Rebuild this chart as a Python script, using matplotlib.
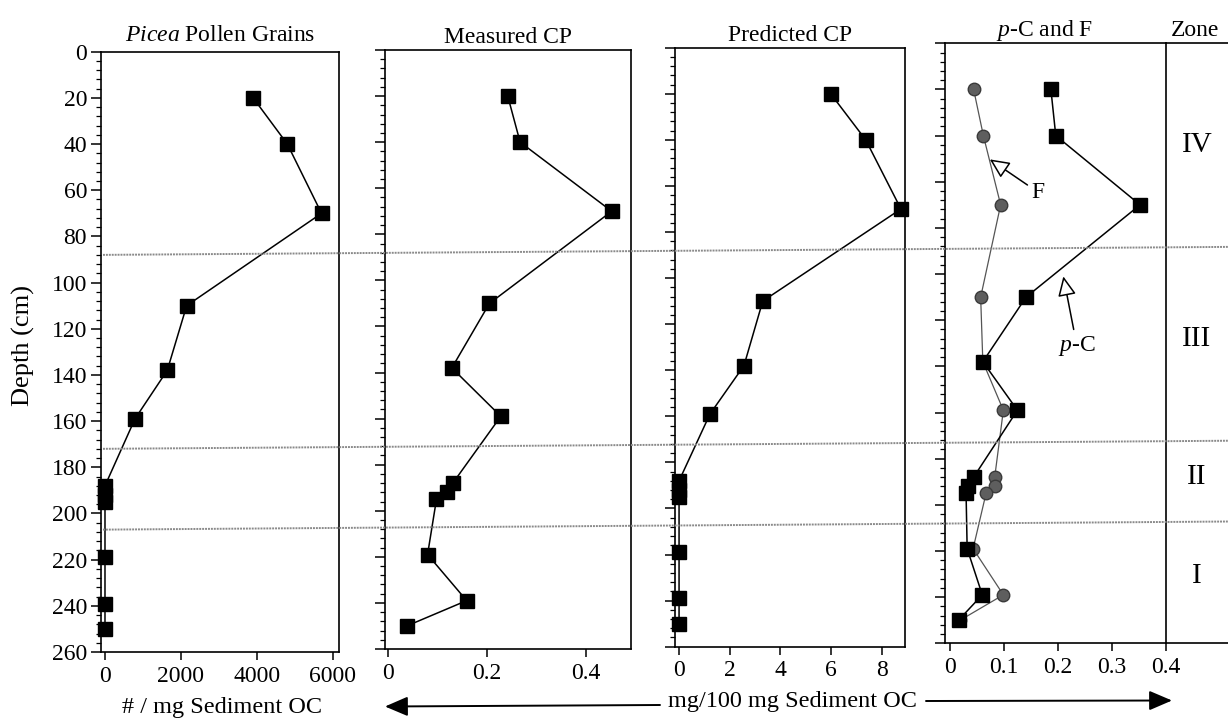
import matplotlib
matplotlib.use('Agg')
import matplotlib.pyplot as plt
from matplotlib.lines import Line2D
from matplotlib.ticker import MultipleLocator

plt.rcParams['font.family'] = ['Liberation Serif', 'DejaVu Serif']
plt.rcParams['mathtext.fontset'] = 'custom'
plt.rcParams['mathtext.rm'] = 'Liberation Serif'
plt.rcParams['mathtext.it'] = 'Liberation Serif:italic'

# Depth of each sample (cm)
depth = [20, 40, 70, 110, 138, 159, 188, 192, 195, 219, 239, 250]
# Picea pollen grains (# / mg sediment OC)
picea = [3900, 4800, 5700, 2150, 1640, 790, 0, 0, 0, 0, 0, 0]
# mg/100 mg sediment OC
measured_cp = [0.242, 0.267, 0.452, 0.205, 0.129, 0.228, 0.131, 0.119, 0.098, 0.080, 0.159, 0.038]
predicted_cp = [5.98, 7.36, 8.75, 3.30, 2.56, 1.22, 0, 0, 0, 0, 0, 0]
p_c = [0.187, 0.196, 0.352, 0.141, 0.061, 0.125, 0.044, 0.034, 0.030, 0.032, 0.060, 0.016]
f_vals = [0.044, 0.062, 0.094, 0.057, 0.061, 0.099, 0.083, 0.083, 0.067, 0.043, 0.099, 0.019]

# zone boundaries (cm) and zone labels
zone_bounds = [88, 172, 207]
zone_names = ['IV', 'III', 'II', 'I']
zone_mid = [44, 128, 188, 231]

W, H = 1228, 720
fig = plt.figure(figsize=(W / 100, H / 100), dpi=100)


def box(x0, x1, ytop, ybot):
    # pixel box of the scanned panel -> figure fraction
    return [x0 / W, 1 - ybot / H, (x1 - x0) / W, (ybot - ytop) / H]


ax1 = fig.add_axes(box(101, 339, 51.7, 652))
ax2 = fig.add_axes(box(385, 631, 50, 649))
ax3 = fig.add_axes(box(675, 905, 47.7, 646.7))
ax4 = fig.add_axes(box(945, 1166, 43.3, 643.3))
axz = fig.add_axes(box(1166, 1300, 43.3, 643.3))

sq = dict(marker='s', ms=9.5, mfc='black', mec='black', color='black', lw=1.1, clip_on=False, zorder=3)

for ax in [ax1, ax2, ax3, ax4]:
    ax.set_ylim(260, 0)
    ax.patch.set_alpha(0)
    ax.yaxis.set_major_locator(MultipleLocator(20))
    ax.yaxis.set_minor_locator(MultipleLocator(4))
    ax.tick_params(axis='y', which='major', direction='out', length=7, width=1.1, labelsize=17, pad=3)
    ax.tick_params(axis='y', which='minor', direction='out', length=3.6, width=0.9)
    ax.tick_params(axis='x', which='major', direction='out', length=5.8, width=1.1, labelsize=17, pad=4)
    for s in ax.spines.values():
        s.set_linewidth(1.2)
    if ax is not ax1:
        ax.tick_params(axis='y', labelleft=False)

# Picea
ax1.plot(picea, depth, **sq)
ax1.set_xlim(-105, 6160)
ax1.set_xticks([0, 2000, 4000, 6000])
ax1.set_title(r'$\mathit{Picea}$ Pollen Grains', fontsize=17, pad=8)

# Measured CP
ax2.plot(measured_cp, depth, **sq)
ax2.set_xlim(-0.006, 0.491)
ax2.set_xticks([0, 0.2, 0.4])
ax2.set_xticklabels(['0', '0.2', '0.4'])
ax2.set_title('Measured CP', fontsize=17, pad=5)

# Predicted CP
ax3.plot(predicted_cp, depth, **sq)
ax3.set_xlim(-0.16, 8.91)
ax3.set_xticks([0, 2, 4, 6, 8])
ax3.set_title('Predicted CP', fontsize=17, pad=4.5)

# p-C and F
ax4.plot(f_vals, depth, marker='o', ms=9, mfc='#5e5e5e', mec='#3a3a3a', color='#555555',
         lw=0.9, clip_on=False, zorder=3)
ax4.plot(p_c, depth, **sq)
ax4.set_xlim(-0.009, 0.4)
ax4.set_xticks([0, 0.1, 0.2, 0.3, 0.4])
ax4.set_xticklabels(['0', '0.1', '0.2', '0.3', '0.4'])
ax4.set_title(r'$\mathit{p}$-C and F', fontsize=17, pad=5.5, x=0.452)

open_head = dict(arrowstyle='-|>,head_length=0.6,head_width=0.28', mutation_scale=20,
                 facecolor='white', edgecolor='black', lw=1.1, shrinkA=1, shrinkB=0)
ax4.annotate('F', xy=(0.074, 50.3), xytext=(0.163, 64.5), fontsize=17,
             ha='center', va='center', arrowprops=open_head)
ax4.annotate(r'$\mathit{p}$-C', xy=(0.21, 101), xytext=(0.235, 131), fontsize=17,
             ha='center', va='center', arrowprops=open_head)

# Zone column
axz.set_xlim(0, 1)
axz.set_ylim(260, 0)
axz.set_xticks([])
axz.set_yticks([])
axz.spines['left'].set_visible(False)
for s in axz.spines.values():
    s.set_linewidth(1.2)
axz.patch.set_alpha(0)
for name, d in zip(zone_names, zone_mid):
    axz.text(0.23, d, name, fontsize=21, ha='center', va='center')
axz.set_title('Zone', fontsize=17, pad=5.5, x=0.22)

# zone boundaries running across every panel
inv = fig.transFigure.inverted()
for d in zone_bounds:
    p0 = inv.transform(ax1.transData.transform((ax1.get_xlim()[0], d)))
    p1 = inv.transform(axz.transData.transform((1, d)))
    fig.add_artist(Line2D([p0[0] + 2 / W, p1[0]], [p0[1], p1[1]], color='#8a8a8a',
                          lw=1.4, ls=(0, (1, 0.5)), zorder=0.5))

# axis labels
fig.text(23 / W, 1 - 345 / H, 'Depth (cm)', rotation=90, fontsize=19, ha='center', va='center')
fig.text(222 / W, 1 - 707 / H, '# / mg Sediment OC', fontsize=17.5, ha='center', va='center')
fig.text(792 / W, 1 - 701 / H, 'mg/100 mg Sediment OC', fontsize=17.5, ha='center', va='center')

solid_head = dict(arrowstyle='-|>,head_length=0.7,head_width=0.3', mutation_scale=20,
                  facecolor='black', edgecolor='black', lw=1.4, shrinkA=0, shrinkB=0)
ax1.annotate('', xy=(385 / W, 1 - 706.5 / H), xytext=(660 / W, 1 - 705 / H),
             xycoords='figure fraction', textcoords='figure fraction',
             arrowprops=solid_head, annotation_clip=False)
ax1.annotate('', xy=(1172 / W, 1 - 700.5 / H), xytext=(926 / W, 1 - 701 / H),
             xycoords='figure fraction', textcoords='figure fraction',
             arrowprops=solid_head, annotation_clip=False)

fig.savefig('out.png', dpi=100)
